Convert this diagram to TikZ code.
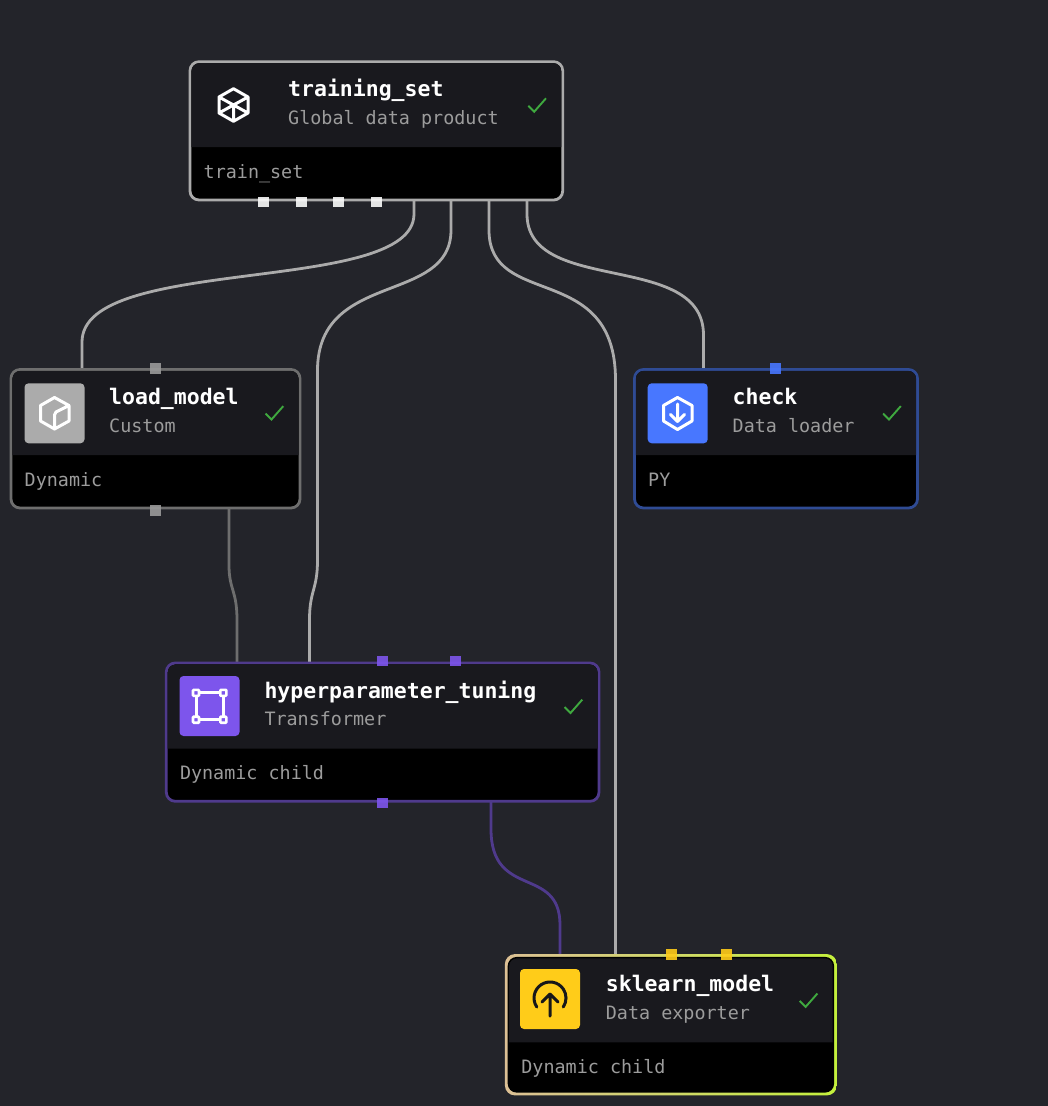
\documentclass[tikz,border=0pt]{standalone}
\usepackage{fontspec}
\setmonofont{DejaVu Sans Mono}
\definecolor{canvas}{HTML}{23242A}
\definecolor{headfill}{HTML}{19191E}
\definecolor{subtext}{HTML}{9C9C9C}
\definecolor{okgreen}{HTML}{3FA93F}
\definecolor{customgray}{HTML}{6E6E6E}
\definecolor{customlight}{HTML}{ABABAB}
\definecolor{loaderblue}{HTML}{2F4B94}
\definecolor{loaderlight}{HTML}{4877FF}
\definecolor{transviolet}{HTML}{4F3A8C}
\definecolor{translight}{HTML}{7D55EC}
\definecolor{exportyellow}{HTML}{FFCC19}
\definecolor{linkdark}{HTML}{171719}
\definecolor{exportleft}{HTML}{DCC095}
\definecolor{exportright}{HTML}{C4F03C}
\tikzstyle{block border}=[draw,line width=2.8pt,rounded corners=9pt,fill=black,
    inner sep=0pt,outer sep=0pt,anchor=north west]
\tikzstyle{block title}=[anchor=base west,inner sep=0pt,text=white,
    font=\ttfamily\bfseries\fontsize{21.5}{24}\selectfont]
\tikzstyle{block sub}=[anchor=base west,inner sep=0pt,text=subtext,
    font=\ttfamily\fontsize{18.4}{22}\selectfont]
\tikzstyle{block tile}=[fill=#1,rounded corners=4pt,minimum size=60pt,
    inner sep=0pt,outer sep=0pt,anchor=north west]
\tikzstyle{port}=[fill=#1,fill opacity=0.9,minimum size=10.8pt,inner sep=0pt,outer sep=0pt]
\tikzstyle{link}=[line width=2.8pt]
\tikzstyle{glyph}=[line width=3pt,line join=round,line cap=round]
\newcommand{\block}[8][]{
    \node[block border,minimum width=#4pt,minimum height=#5pt,#1] at (#2) (#3) {};
    \fill[headfill,rounded corners=8pt] ([shift={(1.4,85.5)}]#3.north west)
        [sharp corners] -- ([shift={(1.4,30)}]#3.north west)
        [rounded corners=8pt] -- ([shift={(1.4,1.4)}]#3.north west)
        -- ([shift={(-1.4,1.4)}]#3.north east)
        [sharp corners] -- ([shift={(-1.4,85.5)}]#3.north east) -- cycle;
    \node[block title] at ([shift={(98,35)}]#3.north west) (#3 title) {#6};
    \node[block sub] at ([shift={(98,62.6)}]#3.north west) (#3 sub) {#7};
    \node[block sub] at ([shift={(13.5,116.6)}]#3.north west) (#3 foot) {#8};
    \draw[okgreen,line width=1.9pt] ([shift={(-34.4,44)}]#3.north east)
        -- ++(5.9,6) -- ++(11.8,-13.4);
}
\newcommand{\porthole}[3]{\node[port=#1] at (#2) (#3) {};}
\begin{document}
\begin{tikzpicture}[x=1pt,y=-1pt]
    \useasboundingbox[fill=canvas] (0,0) rectangle (1048,1106);
    % links go first
    \coordinate (tsA) at (414,200);
    \coordinate (tsB) at (451,200);
    \coordinate (tsC) at (489,200);
    \coordinate (tsD) at (527,200);
    \coordinate (lmIn) at (82,370);
    \coordinate (lmOut) at (229,508);
    \coordinate (hpInA) at (237,663);
    \coordinate (hpInB) at (309.5,663);
    \coordinate (hpOut) at (491,801);
    \coordinate (ckIn) at (703.5,370);
    \coordinate (skInA) at (560,955);
    \coordinate (skInB) at (615.5,955);
    \draw[link,customlight] (tsA) -- ++(0,14) .. controls (414,296) and (82,254) .. (82,342) -- (lmIn);
    \draw[link,customlight] (tsB) -- ++(0,30) .. controls (451,305) and (318,270) .. (317.5,370)
        -- (317.5,560) .. controls (317.5,590) and (309.5,590) .. (309.5,620) -- (hpInB);
    \draw[link,customlight] (tsC) -- ++(0,30) .. controls (489,310) and (615.5,260) .. (615.5,380) -- (skInB);
    \draw[link,customlight] (tsD) -- ++(0,14) .. controls (527,296) and (703.5,250) .. (703.5,335) -- (ckIn);
    \draw[link,customgray] (lmOut) -- (229,565) .. controls (229,590) and (237,590) .. (237,620) -- (hpInA);
    \draw[link,transviolet] (hpOut) -- ++(0,28) .. controls (491,900) and (560,865) .. (560,925) -- (skInA);
    % blocks
    \block[draw=customlight]{190,61.7}{training_set}{372.7}{138.3}{training\_set}{Global data product}{train\_set}
    \block[draw=customgray]{11,369.5}{load_model}{289}{138.5}{load\_model}{Custom}{Dynamic}
    \block[draw=loaderblue]{634.5,369.5}{check}{283}{138.5}{check}{Data loader}{PY}
    \block[draw=transviolet]{166.3,663}{hyperparameter_tuning}{432.7}{138.3}{hyperparameter\_tuning}{Transformer}{Dynamic child}
    % gradient frame, then the block inside it
    \shade[left color=exportleft,right color=exportright,rounded corners=10pt] (504.9,954.1) rectangle (836.9,1095.4);
    \block[draw=none]{507.7,956.9}{sklearn_model}{326.4}{135.7}{sklearn\_model}{Data exporter}{Dynamic child}
    % icons
    \draw[white,glyph] (233.5,88.7) -- (248,97) -- (248,113) -- (233.5,121.3) -- (219,113) -- (219,97) -- cycle
        (219,97) -- (248,113) (248,97) -- (219,113) (233.5,105) -- (233.5,121);
    \node[block tile=customlight] at (24.5,383.3) (load_model tile) {};
    \draw[white,glyph] (54.5,397.5) -- (69,405.5) -- (69,421) -- (54.5,429) -- (40.5,421) -- (40.5,405.5) -- cycle
        (69,405.5) -- (56,412) -- (54.5,415) -- (54.5,429);
    \node[block tile=loaderlight] at (647.7,383.3) (check tile) {};
    \draw[white,glyph] (677.5,397.5) -- (692,405.5) -- (692,421) -- (677.5,429.5) -- (663.5,421) -- (663.5,405.5) -- cycle
        (677.5,404) -- (677.5,421.5) (670.5,414.5) -- (677.5,421.5) -- (684.5,414.5);
    \node[block tile=translight] at (179.5,676) (hyperparameter_tuning tile) {};
    \draw[white,glyph] (196,692.8) rectangle (223.3,719.7);
    \foreach \cx/\cy in {196/692.8,223.3/692.8,196/719.7,223.3/719.7}
        \draw[white,line width=2.6pt,fill=translight,rounded corners=0.8pt] (\cx-3,\cy-3) rectangle (\cx+3,\cy+3);
    \node[block tile=exportyellow] at (520,969) (sklearn_model tile) {};
    \draw[linkdark,glyph] (536.8,1007) arc[start angle=145.7,end angle=394.3,radius=16];
    \draw[linkdark,glyph] (550,1016) -- (550,994) (542,1002) -- (550,994) -- (558,1002);
    % ports
    \foreach \px [count=\pn] in {263.5,301.5,338.5,376.5} {
        \porthole{white!96!gray}{\px,202}{ts port \pn}
    }
    \porthole{customlight!90!black}{155.5,368.3}{lm port a}
    \porthole{customlight!90!black}{155.5,510.2}{lm port b}
    \porthole{loaderlight}{775.5,368.3}{ck port a}
    \porthole{translight}{382.3,661}{hp port a}
    \porthole{translight}{455.3,661}{hp port b}
    \porthole{translight}{382.3,803}{hp port c}
    \porthole{exportyellow}{671.3,954.2}{sk port a}
    \porthole{exportyellow}{726.7,954.2}{sk port b}
\end{tikzpicture}
\end{document}
